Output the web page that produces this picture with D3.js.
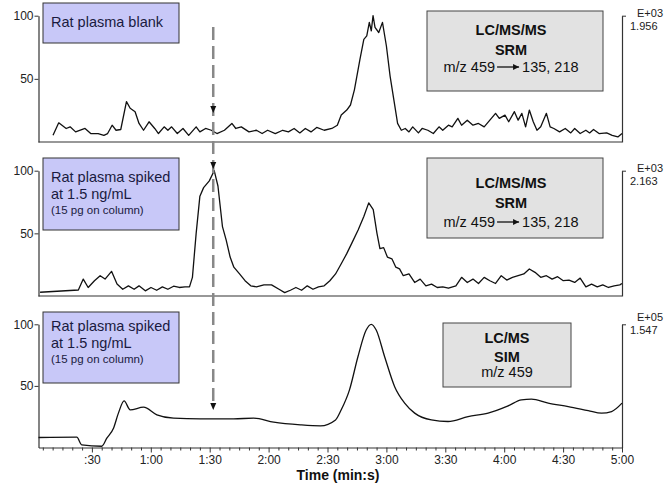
<!DOCTYPE html>
<html>
<head>
<meta charset="utf-8">
<script src="https://cdn.jsdelivr.net/npm/d3@7/dist/d3.min.js"></script>
<style>
  body { margin: 0; background: #fff; }
  svg text { font-family: "Liberation Sans", Arial, Helvetica, sans-serif; }
</style>
</head>
<body>
<div id="chart"></div>
<script>
// chromatogram traces: time (s) and relative intensity (%)
var blankTime = [10.2, 13.1, 16.9, 18.9, 21.7, 26.5, 29.4, 33.2, 36.1, 38.0, 40.3, 42.3, 44.7, 47.6, 49.5, 52.0, 54.0, 56.3, 59.1, 62.0,
    63.9, 66.8, 68.7, 70.6, 73.5, 76.4, 79.3, 83.1, 85.0, 87.9, 90.8, 93.7, 97.5, 101.3, 103.3, 106.1, 110.0, 113.8, 116.7, 119.5,
    123.4, 127.2, 130.1, 133.0, 135.9, 138.7, 141.6, 144.5, 148.3, 152.2, 155.0, 157.0, 159.8, 161.7, 163.7, 166.5, 168.5, 170.0, 171.3, 172.3,
    173.2, 174.2, 176.1, 178.0, 180.0, 181.9, 183.8, 185.7, 187.6, 189.6, 191.5, 193.4, 196.3, 198.2, 201.1, 203.9, 206.8, 208.7, 211.6, 213.5,
    216.4, 218.3, 221.2, 224.1, 226.9, 229.8, 232.7, 235.6, 237.5, 240.4, 242.3, 245.2, 247.1, 249.0, 250.9, 252.8, 254.8, 256.7, 258.6, 261.5,
    263.4, 265.3, 268.2, 271.1, 273.9, 275.9, 278.7, 281.6, 283.5, 285.5, 288.3, 292.2, 295.0, 297.9, 300];
var blankPct = [5.3, 15.2, 10.7, 12.0, 8.0, 10.7, 6.7, 6.7, 5.3, 6.7, 13.3, 9.3, 9.9, 32.0, 26.7, 24.0, 14.7, 9.3, 16.0, 10.7,
    6.7, 12.0, 9.3, 12.0, 6.7, 10.7, 5.3, 12.0, 8.0, 10.7, 9.3, 6.7, 9.3, 14.7, 10.7, 12.0, 8.0, 9.3, 6.7, 9.3,
    6.7, 9.3, 8.0, 10.7, 7.2, 10.7, 8.0, 11.5, 9.3, 10.7, 13.3, 21.3, 25.3, 29.3, 41.3, 65.3, 81.3, 84.0, 94.7, 88.0,
    100, 90.7, 86.7, 94.7, 76.0, 52.0, 33.3, 14.7, 9.3, 10.7, 8.0, 12.0, 7.2, 10.7, 9.3, 6.7, 12.0, 9.3, 13.3, 12.0,
    18.7, 13.3, 17.3, 13.3, 14.7, 12.0, 17.3, 22.7, 18.7, 21.3, 16.0, 24.0, 17.3, 22.7, 12.0, 25.3, 16.0, 9.3, 12.0, 22.7,
    12.0, 10.7, 8.0, 10.7, 7.2, 10.7, 6.7, 9.3, 7.2, 9.9, 6.7, 7.2, 5.3, 4.0, 6.7];

var srmTime = [3.6, 23.1, 25.6, 28.1, 31.3, 34.2, 36.7, 40.0, 42.8, 45.7, 48.6, 51.5, 54.0, 57.2, 60.1, 63.0, 65.9, 68.7, 71.6, 74.5,
    77.4, 79.7, 81.2, 83.1, 85.0, 86.9, 89.8, 92.3, 94.2, 96.5, 98.4, 100.4, 102.3, 105.2, 108.0, 110.9, 113.8, 117.6, 121.5, 125.3,
    128.2, 131.1, 133.9, 136.8, 139.7, 142.6, 145.4, 148.3, 151.2, 154.1, 157.0, 159.8, 162.7, 165.6, 168.5, 171.0, 173.3, 175.2, 176.7, 178.6,
    180.5, 182.8, 184.8, 186.7, 188.6, 191.5, 194.4, 197.2, 200.1, 203.0, 205.9, 208.7, 211.6, 215.4, 218.3, 221.2, 224.1, 226.9, 229.8, 232.7,
    235.6, 238.5, 241.3, 244.2, 247.1, 250.0, 252.8, 255.7, 258.6, 261.5, 264.4, 267.2, 270.1, 273.0, 275.9, 278.7, 281.6, 284.5, 287.4, 290.2,
    293.1, 296.0, 298.9, 300];
var srmPct = [3.0, 4.8, 13.5, 6.8, 12.2, 16.2, 13.5, 19.7, 9.5, 5.4, 8.1, 5.4, 8.1, 4.1, 6.8, 4.6, 7.3, 5.4, 7.8, 6.8,
    7.3, 7.3, 14.9, 50.0, 79.7, 86.5, 91.9, 100, 87.8, 55.4, 44.6, 31.1, 23.0, 17.6, 12.2, 8.1, 7.3, 8.9, 8.9, 5.4,
    2.7, 4.6, 6.8, 4.6, 8.1, 5.4, 7.3, 8.1, 12.2, 17.6, 25.7, 33.8, 43.2, 52.7, 63.5, 74.3, 68.9, 50.0, 37.8, 38.6,
    31.1, 29.7, 23.0, 21.6, 16.2, 17.6, 10.8, 13.5, 8.1, 9.5, 6.8, 7.3, 6.2, 8.1, 14.9, 10.8, 13.5, 10.0, 14.9, 12.2,
    10.0, 16.2, 12.7, 14.9, 16.2, 17.6, 21.6, 18.9, 14.9, 16.2, 13.5, 15.4, 12.2, 12.7, 10.8, 14.3, 7.3, 9.5, 7.3, 8.9,
    6.8, 8.1, 8.9, 10.0];

var simTime = [2.8, 22.3, 24.8, 35.0, 37.6, 41.0, 43.5, 46.4, 49.5, 56.3, 63.1, 71.6, 85.2, 102.2, 112.4, 122.6, 136.2, 146.4, 154.1, 157.0,
    161.2, 165.5, 169.7, 172.3, 174.8, 179.1, 184.2, 189.3, 194.4, 202.9, 211.4, 221.6, 231.8, 242.0, 248.8, 253.9, 262.4, 272.6, 282.8, 289.6,
    294.7, 300];
var simPct = [8.1, 8.4, 2.2, 1.0, 7.6, 15.7, 27.9, 37.8, 30.6, 32.7, 26.5, 23.8, 23.3, 23.3, 23.8, 20.6, 18.4, 17.6, 22.4, 30.6,
    46.8, 73.7, 95.4, 100, 95.4, 73.7, 49.4, 36.0, 27.9, 22.4, 21.1, 25.1, 27.9, 33.8, 38.7, 39.2, 36.0, 33.2, 30.0, 27.9,
    29.2, 36.0];

var majorTicks = [30, 60, 90, 120, 150, 180, 210, 240, 270, 300];
var tickLabels = [":30", "1:00", "1:30", "2:00", "2:30", "3:00", "3:30", "4:00", "4:30", "5:00"];
var yTicks = [50, 100];
var sampleLines = [["Rat plasma blank"], ["Rat plasma spiked", "at 1.5 ng/mL", "(15 pg on column)"], ["Rat plasma spiked", "at 1.5 ng/mL", "(15 pg on column)"]];
var methodLines = [["LC/MS/MS", "SRM", "m/z 459|135, 218"], ["LC/MS/MS", "SRM", "m/z 459|135, 218"], ["LC/MS", "SIM", "m/z 459"]];
var scaleExp = ["E+03", "E+03", "E+05"];
var scaleMax = ["1.956", "2.163", "1.547"];
var markTime = 91.8;

var width = 669, height = 483;
var svg = d3.select("#chart").append("svg").attr("width", width).attr("height", height);

var defs = svg.append("defs");
defs.append("marker").attr("id", "head").attr("viewBox", "0 0 10 10")
    .attr("refX", 10).attr("refY", 5).attr("markerWidth", 7).attr("markerHeight", 6)
    .attr("markerUnits", "userSpaceOnUse").attr("orient", "auto")
    .append("path").attr("d", "M0,0L10,5L0,10Z").attr("fill", "#111");

var x = d3.scaleLinear().domain([2.8, 300]).range([38.5, 622]);

// panel layout
var panels = [
    {time: blankTime, pct: blankPct, base: 142, top: 15.7, box: [43, 3, 136, 40], base1: 27, gbox: [427, 11, 176, 80], gy: [35, 55, 72], gcx: 511, ex: 17, curve: d3.curveLinear},
    {time: srmTime, pct: srmPct, base: 296, top: 170.7, box: [43, 158, 136, 72], base1: 182, gbox: [427, 158, 176, 80], gy: [188, 208, 227], gcx: 511, ex: 172, curve: d3.curveLinear},
    {time: simTime, pct: simPct, base: 447.5, top: 324.3, box: [43, 312, 136, 71], base1: 331, gbox: [443, 323, 128, 64], gy: [343, 362, 377], gcx: 507, ex: 321, curve: d3.curveMonotoneX}
];

panels.forEach(function(p, i) {
    var y = d3.scaleLinear().domain([0, 100]).range([p.base, p.top]);
    var g = svg.append("g");

    // left axis
    var la = g.append("g").attr("transform", "translate(" + x.range()[0] + ",0)")
        .call(d3.axisLeft(y).tickValues(yTicks).tickSize(4).tickSizeOuter(0).tickPadding(1));
    la.select(".domain").attr("stroke", "#333").attr("stroke-width", 1.2);
    la.selectAll(".tick line").attr("stroke", "#333");
    la.selectAll("text").attr("font-size", 12).attr("fill", "#222").attr("font-family", "Liberation Sans, Arial");

    // right axis
    var ra = g.append("g").attr("transform", "translate(" + x.range()[1] + ",0)")
        .call(d3.axisRight(y).tickValues([100]).tickFormat("").tickSize(4).tickSizeOuter(0));
    ra.select(".domain").attr("stroke", "#333").attr("stroke-width", 1.2);
    ra.selectAll(".tick line").attr("stroke", "#333");
    g.append("text").attr("x", 637).attr("y", p.ex).attr("font-size", 11).attr("fill", "#222").text(scaleExp[i]);
    g.append("text").attr("x", 630).attr("y", p.ex + 13).attr("font-size", 11).attr("fill", "#222").text(scaleMax[i]);

    // baseline / time axis
    if (i < 2) {
        g.append("line").attr("x1", x.range()[0]).attr("x2", x.range()[1])
            .attr("y1", y(0)).attr("y2", y(0)).attr("stroke", "#333").attr("stroke-width", 1.2);
    } else {
        var minor = d3.range(5, 300, 5).filter(function(t) { return t % 30 !== 0; });
        var mi = g.append("g").attr("transform", "translate(0," + y(0) + ")")
            .call(d3.axisBottom(x).tickValues(minor).tickFormat("").tickSize(3).tickSizeOuter(0));
        mi.select(".domain").remove();
        mi.selectAll(".tick line").attr("stroke", "#333");
        var ma = g.append("g").attr("transform", "translate(0," + y(0) + ")")
            .call(d3.axisBottom(x).tickValues(majorTicks).tickSize(5).tickSizeOuter(0).tickPadding(3)
                .tickFormat(function(d, k) { return tickLabels[k]; }));
        ma.select(".domain").attr("stroke", "#333").attr("stroke-width", 1.2);
        ma.selectAll(".tick line").attr("stroke", "#333");
        ma.selectAll("text").attr("font-size", 12).attr("fill", "#222").attr("font-family", "Liberation Sans, Arial");
        svg.append("text").attr("x", 338).attr("y", 480).attr("text-anchor", "middle")
            .attr("font-size", 14).attr("font-weight", "bold").attr("fill", "#111").text("Time (min:s)");
    }

    // trace
    var pts = p.time.map(function(t, k) { return [t, p.pct[k]]; });
    g.append("path").datum(pts)
        .attr("d", d3.line().curve(p.curve).x(function(d) { return x(d[0]); }).y(function(d) { return y(d[1]); }))
        .attr("fill", "none").attr("stroke", "#111").attr("stroke-width", 1.3).attr("stroke-linejoin", "round");

    // sample label
    g.append("rect").attr("x", p.box[0]).attr("y", p.box[1]).attr("width", p.box[2]).attr("height", p.box[3])
        .attr("fill", "#c8c8f8").attr("stroke", "#333").attr("stroke-width", 1);
    var lineGap = [0, 17, 32];
    sampleLines[i].forEach(function(s, k) {
        g.append("text").attr("x", 51).attr("y", p.base1 + lineGap[k])
            .attr("font-size", k == 2 ? 11.5 : 14.5).attr("fill", "#1a1a40").text(s);
    });

    // method label
    g.append("rect").attr("x", p.gbox[0]).attr("y", p.gbox[1]).attr("width", p.gbox[2]).attr("height", p.gbox[3])
        .attr("fill", "#e2e2e2").attr("stroke", "#444").attr("stroke-width", 1);
    methodLines[i].forEach(function(s, k) {
        var parts = s.split("|");
        if (parts.length == 1) {
            g.append("text").attr("x", p.gcx).attr("y", p.gy[k]).attr("text-anchor", "middle")
                .attr("font-size", 14.5).attr("font-weight", k < 2 ? "bold" : "normal").attr("fill", "#111").text(s);
        } else {
            var lg = g.append("g");
            var t1 = lg.append("text").attr("x", 0).attr("y", p.gy[k]).attr("font-size", 14.5).attr("fill", "#111").text(parts[0]);
            var w1 = t1.node().getComputedTextLength();
            lg.append("line").attr("x1", w1 + 2).attr("x2", w1 + 24).attr("y1", p.gy[k] - 5).attr("y2", p.gy[k] - 5)
                .attr("stroke", "#111").attr("stroke-width", 1.3).attr("marker-end", "url(#head)");
            var t2 = lg.append("text").attr("x", w1 + 27).attr("y", p.gy[k]).attr("font-size", 14.5).attr("fill", "#111").text(parts[1]);
            var tw = w1 + 27 + t2.node().getComputedTextLength();
            lg.attr("transform", "translate(" + (p.gcx - tw / 2) + ",0)");
        }
    });
});

// retention time marker
var mx = x(markTime);
svg.append("line").attr("x1", mx).attr("x2", mx).attr("y1", 27).attr("y2", 406)
    .attr("stroke", "#888").attr("stroke-width", 2.5).attr("stroke-dasharray", "13,6");
[113, 169, 410].forEach(function(yy) {
    svg.append("path").attr("d", "M" + (mx - 3) + "," + (yy - 7) + "L" + (mx + 3) + "," + (yy - 7) + "L" + mx + "," + yy + "Z")
        .attr("fill", "#111");
});
</script>
</body>
</html>
